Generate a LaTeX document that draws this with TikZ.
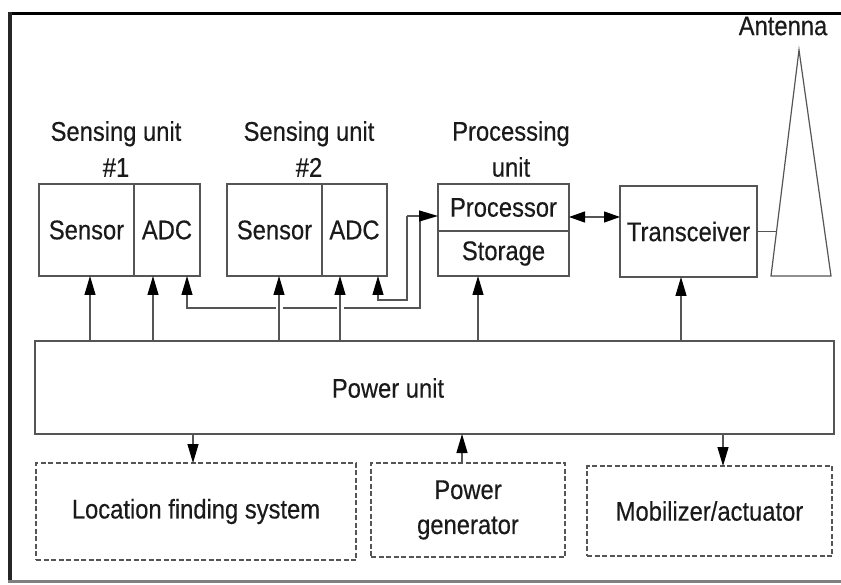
\documentclass[tikz,border=0pt]{standalone}
\usepackage{fontspec}
\setmainfont{Liberation Sans}[FakeStretch=0.88,FakeBold=0.4]
\usetikzlibrary{arrows.meta,calc}
\definecolor{ln}{HTML}{555555}
\definecolor{tx}{HTML}{1A1A1A}
\begin{document}
\begin{tikzpicture}[x=1pt,y=-1pt,
  font=\fontsize{27}{32}\selectfont, text=tx,
  box/.style={draw=ln,line width=1.2pt,inner sep=0pt,outer sep=0pt,rectangle},
  dbox/.style={box,dash pattern=on 5pt off 2.5pt},
  arr/.style={draw=ln,line width=1.2pt,-{Triangle[length=19pt,width=11pt,color=black]}},
  darr/.style={draw=ln,line width=1.2pt,{Triangle[length=16pt,width=11pt,color=black]}-{Triangle[length=16pt,width=11pt,color=black]}},
  rarr/.style={draw=ln,line width=1.2pt,{Triangle[length=19pt,width=11pt,color=black]}-},
  wire/.style={draw=ln,line width=1.2pt},
  gap/.style={preaction={draw=white,line width=7pt,-,shorten <=4pt,shorten >=22pt}},
  lbl/.style={align=center,inner sep=0pt,font=\fontsize{27}{36}\selectfont}]
\useasboundingbox (0,0) rectangle (841,585);
% frame
\draw[black,line width=3.5pt] (8,13.5) -- (841,13.5);
\draw[black!85,line width=3.5pt] (10,12) -- (10,583);
\draw[gray,line width=3pt] (8,581.5) -- (841,581.5);
% top blocks
\node[box,minimum width=95pt,minimum height=92pt] (s1) at (86.5,230) {Sensor};
\node[box,minimum width=66pt,minimum height=92pt] (a1) at (167,230) {ADC};
\node[box,minimum width=95pt,minimum height=92pt] (s2) at (274.5,230) {Sensor};
\node[box,minimum width=65pt,minimum height=92pt] (a2) at (354.5,230) {ADC};
\node[box,minimum width=131pt,minimum height=47pt] (proc) at (503.5,207.5) {Processor};
\node[box,minimum width=131pt,minimum height=45pt] (stor) at (503.5,253.5) {Storage};
\node[box,minimum width=137pt,minimum height=91pt] (trx) at (688.5,231.5) {Transceiver};
% labels
\node[lbl] (l1) at (116,149) {Sensing unit\\\#1};
\node[lbl] (l2) at (309,149) {Sensing unit\\\#2};
\node[lbl] (l3) at (511,149) {Processing\\unit};
\node[inner sep=0pt] (antl) at (783,26) {Antenna};
% antenna
\coordinate (apex) at (799,50);
\coordinate (bl) at (771,276);
\coordinate (br) at (831,276);
\draw[wire] (apex) -- (bl) -- (br) -- cycle;
\coordinate (ant) at ($(apex)!0.804!(bl)$);
\draw[wire] (trx.east) -- (trx.east -| ant);
% power unit
\node[box,minimum width=799pt,minimum height=93pt] (pwr) at (434.5,387.5) {};
\node[inner sep=0pt] (ptxt) at (388,388) {Power unit};
% bottom dashed blocks
\node[dbox,minimum width=320pt,minimum height=97pt] (loc) at (196,511.5) {Location finding system};
\node[dbox,minimum width=194pt,minimum height=94pt,align=center,font=\fontsize{27}{35}\selectfont] (gen) at (468,510) {Power\\generator};
\node[dbox,minimum width=245pt,minimum height=90pt] (mob) at (709.5,511) {Mobilizer/actuator};
% wires from ADCs to processor
\coordinate (w1) at (187,308);
\coordinate (w2) at (420,308);
\coordinate (w3) at (420,216);
\coordinate (v1) at (378,300);
\coordinate (v2) at (407,300);
\coordinate (v3) at (407,216);
\draw[rarr] (a1.south -| w1) -- (w1) -- (w2) -- (w3);
\draw[rarr] (a2.south -| v1) -- (v1) -- (v2) -- (v3);
\draw[arr] (v3) -- (proc.west |- v3);
% power arrows
\coordinate (x1) at (90,0);
\coordinate (x2) at (153,0);
\coordinate (x3) at (279,0);
\coordinate (x4) at (340,0);
\coordinate (x5) at (478,0);
\coordinate (x6) at (681,0);
\draw[arr] (pwr.north -| x1) -- (s1.south -| x1);
\draw[arr] (pwr.north -| x2) -- (a1.south -| x2);
\draw[arr,gap] (pwr.north -| x3) -- (s2.south -| x3);
\draw[arr,gap] (pwr.north -| x4) -- (a2.south -| x4);
\draw[arr] (pwr.north -| x5) -- (stor.south -| x5);
\draw[arr] (pwr.north -| x6) -- (trx.south -| x6);
% processor <-> transceiver
\coordinate (y1) at (0,217);
\draw[darr] (proc.east |- y1) -- (trx.west |- y1);
% bottom arrows
\coordinate (x7) at (193,0);
\coordinate (x8) at (462,0);
\coordinate (x9) at (723,0);
\draw[arr] (pwr.south -| x7) -- (loc.north -| x7);
\draw[arr] (gen.north -| x8) -- (pwr.south -| x8);
\draw[arr] (pwr.south -| x9) -- (mob.north -| x9);
\end{tikzpicture}
\end{document}
